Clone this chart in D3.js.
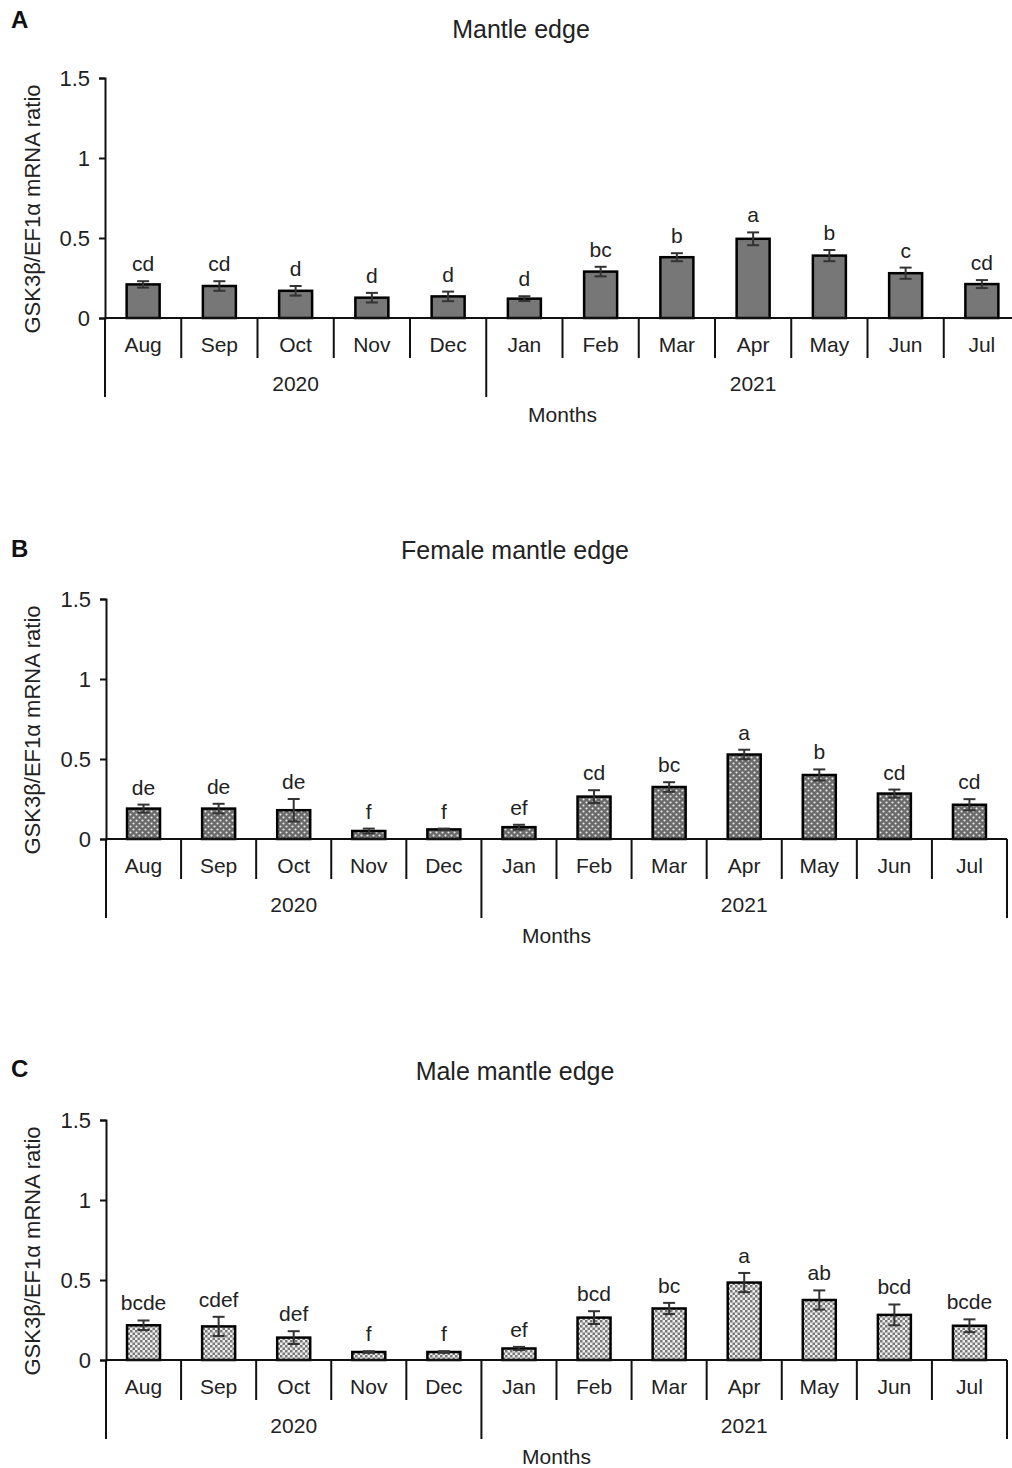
<!DOCTYPE html>
<html>
<head>
<meta charset="utf-8">
<script src="https://cdn.jsdelivr.net/npm/d3@7"></script>
<style>
  html, body { margin: 0; padding: 0; background: #fff; }
  svg { display: block; font-family: "Liberation Sans", Arial, sans-serif; }
</style>
</head>
<body>
<svg id="chart" width="1012" height="1468"></svg>
<script>
// Categories
const months = ["Aug", "Sep", "Oct", "Nov", "Dec", "Jan", "Feb", "Mar", "Apr", "May", "Jun", "Jul"];
const years = ["2020", "2021"];
const monthsPerYear = [5, 7];
const yTicks = [0, 0.5, 1, 1.5];

// Mantle edge (all)
const mantleMean = [0.21, 0.20, 0.17, 0.127, 0.135, 0.121, 0.29, 0.38, 0.495, 0.39, 0.28, 0.212];
const mantleErr  = [0.02, 0.03, 0.03, 0.03, 0.03, 0.015, 0.03, 0.025, 0.04, 0.035, 0.035, 0.025];
const mantleSig  = ["cd", "cd", "d", "d", "d", "d", "bc", "b", "a", "b", "c", "cd"];

// Female mantle edge
const femaleMean = [0.19, 0.19, 0.18, 0.05, 0.06, 0.074, 0.265, 0.325, 0.528, 0.40, 0.284, 0.214];
const femaleErr  = [0.025, 0.03, 0.07, 0.015, 0.005, 0.015, 0.04, 0.03, 0.03, 0.035, 0.025, 0.035];
const femaleSig  = ["de", "de", "de", "f", "f", "ef", "cd", "bc", "a", "b", "cd", "cd"];

// Male mantle edge
const maleMean = [0.217, 0.21, 0.14, 0.05, 0.05, 0.072, 0.265, 0.322, 0.484, 0.375, 0.282, 0.214];
const maleErr  = [0.03, 0.06, 0.04, 0.005, 0.005, 0.01, 0.04, 0.035, 0.06, 0.06, 0.065, 0.04];
const maleSig  = ["bcde", "cdef", "def", "f", "f", "ef", "bcd", "bc", "a", "ab", "bcd", "bcde"];

const yLabel = "GSK3β/EF1α mRNA ratio";
const xLabel = "Months";

const svg = d3.select("#chart");
const defs = svg.append("defs");

// Dotted fill: dark grey with staggered white dots
const dots = defs.append("pattern").attr("id", "dots")
  .attr("patternUnits", "userSpaceOnUse").attr("width", 6).attr("height", 6);
dots.append("rect").attr("width", 6).attr("height", 6).attr("fill", "#6a6a6a");
dots.append("circle").attr("cx", 1.5).attr("cy", 1.5).attr("r", 1.05).attr("fill", "#ececec");
dots.append("circle").attr("cx", 4.5).attr("cy", 4.5).attr("r", 1.05).attr("fill", "#ececec");

// Checkerboard fill
const checks = defs.append("pattern").attr("id", "checks")
  .attr("patternUnits", "userSpaceOnUse").attr("width", 5).attr("height", 5);
checks.append("rect").attr("width", 5).attr("height", 5).attr("fill", "#efefef");
checks.append("rect").attr("width", 2.5).attr("height", 2.5).attr("fill", "#777");
checks.append("rect").attr("x", 2.5).attr("y", 2.5).attr("width", 2.5).attr("height", 2.5).attr("fill", "#777");

const panels = [
  { tag: "A", title: "Mantle edge", titleX: 521, titleY: 38, tagY: 28,
    mean: mantleMean, err: mantleErr, sig: mantleSig, fill: "#777777", errColor: "#333",
    y0: 318, yTop: 78, xLeft: 105, xRight: 1020 },
  { tag: "B", title: "Female mantle edge", titleX: 515, titleY: 559, tagY: 557,
    mean: femaleMean, err: femaleErr, sig: femaleSig, fill: "url(#dots)", errColor: "#333",
    y0: 839, yTop: 599, xLeft: 106, xRight: 1007 },
  { tag: "C", title: "Male mantle edge", titleX: 515, titleY: 1080, tagY: 1077,
    mean: maleMean, err: maleErr, sig: maleSig, fill: "url(#checks)", errColor: "#333",
    y0: 1360, yTop: 1120, xLeft: 106, xRight: 1007 }
];

const textColor = "#222";

panels.forEach(p => {
  const g = svg.append("g");

  const x = d3.scaleBand().domain(months).range([p.xLeft, p.xRight]).paddingInner(0).paddingOuter(0);
  const y = d3.scaleLinear().domain([0, 1.5]).range([p.y0, p.yTop]);
  const bw = 33;

  // Panel tag and title
  g.append("text").attr("x", 11).attr("y", p.tagY)
    .attr("font-size", 24).attr("font-weight", "bold").attr("fill", "#111").text(p.tag);
  g.append("text").attr("x", p.titleX).attr("y", p.titleY)
    .attr("text-anchor", "middle").attr("font-size", 25).attr("fill", textColor).text(p.title);

  // Y axis
  const yAxis = g.append("g").attr("transform", `translate(${p.xLeft},0)`)
    .call(d3.axisLeft(y).tickValues(yTicks).tickSize(6).tickPadding(9).tickFormat(d3.format("")));
  yAxis.select(".domain").attr("stroke", "#111").attr("stroke-width", 2);
  yAxis.selectAll(".tick line").attr("stroke", "#111").attr("stroke-width", 2);
  yAxis.selectAll(".tick text").attr("font-size", 22).attr("fill", textColor)
    .attr("font-family", "Liberation Sans, Arial, sans-serif");

  // Y axis title
  g.append("text")
    .attr("transform", `translate(32,${p.y0 - 109}) rotate(-90)`)
    .attr("text-anchor", "middle").attr("dominant-baseline", "central")
    .attr("font-size", 22).attr("fill", textColor).text(yLabel);

  // Bars
  g.selectAll("rect.bar").data(months).join("rect").attr("class", "bar")
    .attr("x", d => x(d) + (x.bandwidth() - bw) / 2)
    .attr("y", (d, i) => y(p.mean[i]))
    .attr("width", bw)
    .attr("height", (d, i) => y(0) - y(p.mean[i]))
    .attr("fill", p.fill).attr("stroke", "#000").attr("stroke-width", 2.5);

  // Error bars
  const cap = 6;
  months.forEach((m, i) => {
    const cx = x(m) + x.bandwidth() / 2;
    const hi = y(p.mean[i] + p.err[i]);
    const lo = y(p.mean[i] - p.err[i]);
    const eg = g.append("g").attr("stroke", p.errColor).attr("stroke-width", 2);
    eg.append("line").attr("x1", cx).attr("x2", cx).attr("y1", hi).attr("y2", lo);
    eg.append("line").attr("x1", cx - cap).attr("x2", cx + cap).attr("y1", hi).attr("y2", hi);
    eg.append("line").attr("x1", cx - cap).attr("x2", cx + cap).attr("y1", lo).attr("y2", lo);

    // Significance letters
    g.append("text").attr("x", cx).attr("y", hi - 10)
      .attr("text-anchor", "middle").attr("font-size", 21).attr("fill", textColor).text(p.sig[i]);

    // Month labels
    g.append("text").attr("x", cx).attr("y", p.y0 + 34)
      .attr("text-anchor", "middle").attr("font-size", 21).attr("fill", textColor).text(m);
  });

  // Category axis: baseline, month separators and year brackets
  const axisG = g.append("g").attr("stroke", "#111").attr("stroke-width", 2);
  axisG.append("line").attr("x1", p.xLeft).attr("x2", p.xRight).attr("y1", y(0)).attr("y2", y(0));

  const yearBounds = [0];
  monthsPerYear.forEach(n => yearBounds.push(yearBounds[yearBounds.length - 1] + n));

  for (let i = 0; i <= months.length; i++) {
    const bx = i < months.length ? x(months[i]) : p.xRight;
    const isYear = yearBounds.includes(i);
    axisG.append("line").attr("x1", bx).attr("x2", bx)
      .attr("y1", y(0)).attr("y2", p.y0 + (isYear ? 79 : 40));
  }

  years.forEach((yr, k) => {
    const a = yearBounds[k], b = yearBounds[k + 1];
    const xa = x(months[a]);
    const xb = b < months.length ? x(months[b]) : p.xRight;
    g.append("text").attr("x", (xa + xb) / 2).attr("y", p.y0 + 73)
      .attr("text-anchor", "middle").attr("font-size", 21).attr("fill", textColor).text(yr);
  });

  g.append("text").attr("x", (p.xLeft + p.xRight) / 2).attr("y", p.y0 + 104)
    .attr("text-anchor", "middle").attr("font-size", 21).attr("fill", textColor).text(xLabel);
});
</script>
</body>
</html>
